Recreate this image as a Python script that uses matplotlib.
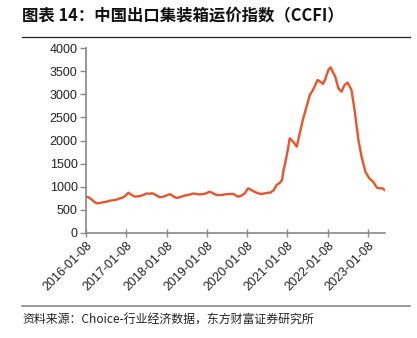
import matplotlib
matplotlib.use("Agg")
import matplotlib.pyplot as plt
import pandas as pd

plt.rcParams['font.family'] = ['Liberation Sans', 'Noto Sans CJK SC', 'DejaVu Sans']

dates = [
    "2016-01-08", "2016-01-29", "2016-02-26", "2016-03-25", "2016-04-15", "2016-05-13",
    "2016-06-10", "2016-07-08", "2016-08-05", "2016-09-09", "2016-10-07", "2016-11-04",
    "2016-12-02", "2016-12-30", "2017-01-27", "2017-02-24", "2017-03-28", "2017-04-28",
    "2017-05-26", "2017-06-23", "2017-07-07", "2017-08-04", "2017-09-01", "2017-09-29",
    "2017-10-27", "2017-11-10", "2017-12-22", "2018-01-19", "2018-02-06", "2018-03-09",
    "2018-04-06", "2018-05-04", "2018-06-08", "2018-07-06", "2018-08-03", "2018-09-07",
    "2018-10-05", "2018-11-02", "2018-11-30", "2018-12-28", "2019-02-01", "2019-03-01",
    "2019-04-05", "2019-05-03", "2019-06-07", "2019-07-05", "2019-08-02", "2019-09-06",
    "2019-10-18", "2019-11-15", "2019-12-20", "2020-01-17", "2020-02-14", "2020-03-13",
    "2020-04-17", "2020-05-15", "2020-06-12", "2020-07-10", "2020-08-07", "2020-09-04",
    "2020-10-02", "2020-10-30", "2020-11-20", "2020-12-04", "2020-12-18", "2021-01-08",
    "2021-01-29", "2021-02-19", "2021-03-12", "2021-04-02", "2021-04-30", "2021-05-28",
    "2021-06-30", "2021-07-30", "2021-08-27", "2021-09-17", "2021-10-08", "2021-11-05",
    "2021-11-26", "2021-12-17", "2022-01-14", "2022-02-04", "2022-02-25", "2022-03-18",
    "2022-04-15", "2022-05-13", "2022-06-10", "2022-07-08", "2022-08-12", "2022-09-09",
    "2022-10-14", "2022-11-11", "2022-12-16", "2023-01-20", "2023-02-24", "2023-03-31",
    "2023-04-28", "2023-05-19", "2023-06-09",
]
ccfi = [
    780, 770, 725, 665, 638, 645,
    660, 670, 690, 705, 715, 740,
    760, 800, 868, 820, 781, 790,
    805, 830, 850, 845, 855, 820,
    785, 768, 790, 820, 840, 790,
    755, 765, 795, 815, 825, 850,
    840, 830, 835, 850, 889, 860,
    818, 815, 825, 835, 840, 840,
    781, 800, 860, 963, 930, 889,
    855, 840, 850, 865, 870, 920,
    1035, 1080, 1143, 1360, 1505, 1750,
    2048, 2000, 1939, 1866, 2156, 2450,
    2733, 2987, 3095, 3200, 3312, 3270,
    3226, 3330, 3529, 3587, 3480, 3384,
    3131, 3058, 3204, 3254, 3095, 2661,
    2010, 1649, 1323, 1180, 1106, 976,
    960, 963, 926,
]
ytick_vals = [0, 500, 1000, 1500, 2000, 2500, 3000, 3500, 4000]
xtick_labels = ["2016-01-08", "2017-01-08", "2018-01-08", "2019-01-08",
                "2020-01-08", "2021-01-08", "2022-01-08", "2023-01-08"]

x = pd.to_datetime(dates)
xt = pd.to_datetime(xtick_labels)

fig = plt.figure(figsize=(4.17, 3.38), dpi=100)
ax = fig.add_axes([86/417, 1 - 232.7/338, (385 - 86)/417, (232.7 - 48.3)/338])
ax.plot(x, ccfi, color='#E6552B', linewidth=1.7, solid_joinstyle='round')

ax.set_ylim(0, 4000)
ax.set_yticks(ytick_vals)
ax.set_xlim(pd.Timestamp("2016-01-08"), pd.Timestamp("2023-06-12"))
ax.set_xticks(xt)
ax.set_xticklabels(xtick_labels, rotation=45, ha='right', rotation_mode='anchor')
ax.tick_params(axis='both', labelsize=9, colors='#222222', length=4, width=1)
ax.tick_params(axis='x', direction='inout', length=6, color='#888888', pad=2)
ax.tick_params(axis='y', direction='out', color='#888888', pad=2)
for s in ['top', 'right']:
    ax.spines[s].set_visible(False)
for s in ['left', 'bottom']:
    ax.spines[s].set_color('#888888')
    ax.spines[s].set_linewidth(1.2)

fig.text(22/417, 1 - 16/338, "图表 14：中国出口集装箱运价指数（CCFI）",
         fontsize=11.8, fontweight='bold', family=['Noto Sans CJK SC', 'DejaVu Sans'],
         va='center', ha='left', color='#111111')
fig.add_artist(plt.Line2D([22/417, 410/417], [1 - 37/338, 1 - 37/338],
                          color='#222222', linewidth=0.9))
fig.add_artist(plt.Line2D([22/417, 410/417], [1 - 306/338, 1 - 306/338],
                          color='#888888', linewidth=1.2))
fig.text(22/417, 1 - 320/338, "资料来源：Choice-行业经济数据，东方财富证券研究所",
         fontsize=8.6, family=['Noto Sans CJK SC', 'DejaVu Sans'],
         va='center', ha='left', color='#222222')

fig.savefig("out.png", dpi=100)
